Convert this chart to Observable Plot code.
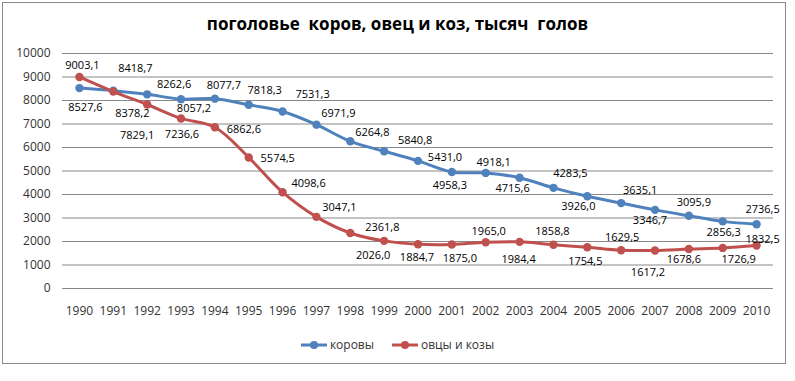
<!DOCTYPE html>
<html>
<head>
<meta charset="utf-8">
<script src="https://cdn.jsdelivr.net/npm/d3@7"></script>
<script src="https://cdn.jsdelivr.net/npm/@observablehq/plot@0.6"></script>
<style>
  html, body { margin: 0; padding: 0; background: #fff; }
  body { width: 795px; height: 381px; position: relative; overflow: hidden; font-family: "Open Sans", "Noto Sans", sans-serif; }
  #frame { position: absolute; left: 2px; top: 2px; width: 784px; height: 362px; border: 1px solid #8a8a8a; box-sizing: border-box; }
  #title { position: absolute; left: 0; width: 795px; top: 12px; text-align: center; font-size: 17px; font-weight: bold; color: #000; white-space: pre; }
  #chart { position: absolute; left: 0; top: 40px; }
  #legend { position: absolute; top: 336px; left: 0; width: 795px; display: flex; justify-content: center; gap: 18px; font-size: 12px; color: #333; }
  .item { display: flex; align-items: center; gap: 3px; }
</style>
</head>
<body>
<div id="frame"></div>
<div id="title"></div>
<div id="chart"></div>
<div id="legend"></div>
<script>
const titleText = "поголовье  коров, овец и коз, тысяч  голов";
const years = [1990, 1991, 1992, 1993, 1994, 1995, 1996, 1997, 1998, 1999, 2000,
               2001, 2002, 2003, 2004, 2005, 2006, 2007, 2008, 2009, 2010];
const cows = [8527.6, 8418.7, 8262.6, 8057.2, 8077.7, 7818.3, 7531.3, 6971.9, 6264.8, 5840.8, 5431.0,
              4958.3, 4918.1, 4715.6, 4283.5, 3926.0, 3635.1, 3346.7, 3095.9, 2856.3, 2736.5];
const sheepGoats = [9003.1, 8378.2, 7829.1, 7236.6, 6862.6, 5574.5, 4098.6, 3047.1, 2361.8, 2026.0, 1884.7,
                    1875.0, 1965.0, 1984.4, 1858.8, 1754.5, 1629.5, 1617.2, 1678.6, 1726.9, 1832.5];
const seriesNames = ["коровы", "овцы и козы"];
const yTicks = [0, 1000, 2000, 3000, 4000, 5000, 6000, 7000, 8000, 9000, 10000];

// styling / layout (not data)
const colors = ["#4F81BD", "#C0504D"];
const cowLabelOffsets = [[6,19],[22,-22],[27,-10],[13,9],[9,-13],[16,-14],[30,-17],[22,-11],[22,-9],[31,-11],[27,-3],
                         [-2,13],[8,-10],[-7,11],[17,-14],[-9,10],[19,-13],[-5,11],[5,-13],[1,11],[6,-15]];
const sheepLabelOffsets = [[3,-11],[19,22],[-10,31],[1,16],[29,2],[29,1],[26,-9],[23,-9],[32,-6],[-11,15],[-1,13],
                           [8,14],[3,-11],[-1,18],[-1,-13],[-2,14],[1,-13],[-7,22],[-5,10],[16,12],[6,-6]];

document.getElementById("title").textContent = titleText;

const seriesValues = [cows, sheepGoats];
const offsets = [cowLabelOffsets, sheepLabelOffsets];
const rows = [];
seriesValues.forEach((vals, s) => vals.forEach((v, i) => rows.push({series: seriesNames[s], year: years[i], value: v, s, i})));

const fmt = v => v.toFixed(1).replace(".", ",");
const font = "'Open Sans', 'Noto Sans', sans-serif";

const labelMarks = rows.map(r => Plot.text([r], {
  x: "year", y: "value", text: d => fmt(d.value),
  dx: offsets[r.s][r.i][0], dy: offsets[r.s][r.i][1],
  fontSize: 11, fill: "#000"
}));

const chart = Plot.plot({
  width: 795,
  height: 290,
  marginLeft: 62,
  marginRight: 22,
  marginTop: 13,
  marginBottom: 42,
  style: {fontFamily: font, background: "transparent", overflow: "visible"},
  x: {type: "point", domain: years, padding: 0.5, round: false, label: null},
  y: {domain: [0, 10000], label: null},
  color: {domain: seriesNames, range: colors},
  marks: [
    Plot.gridY(yTicks, {stroke: "#888", strokeOpacity: 1, strokeWidth: 1}),
    Plot.line(rows, {x: "year", y: "value", stroke: "series", z: "series", strokeWidth: 3, curve: "catmull-rom"}),
    Plot.dot(rows, {x: "year", y: "value", fill: "series", r: 4.2}),
    ...labelMarks,
    Plot.axisY(yTicks, {tickSize: 0, tickPadding: 12, tickFormat: d => String(d), fontSize: 12, fill: "#333", label: null}),
    Plot.axisX(years, {tickSize: 0, tickPadding: 18, tickFormat: d => String(d), fontSize: 12, fill: "#333", label: null})
  ]
});
document.getElementById("chart").appendChild(chart);

const legend = document.getElementById("legend");
seriesNames.forEach((name, k) => {
  const item = document.createElement("div");
  item.className = "item";
  item.innerHTML = `<svg width="26" height="10"><line x1="0" y1="5" x2="26" y2="5" stroke="${colors[k]}" stroke-width="3"/><circle cx="13" cy="5" r="4" fill="${colors[k]}"/></svg><span>${name}</span>`;
  legend.appendChild(item);
});
</script>
</body>
</html>
